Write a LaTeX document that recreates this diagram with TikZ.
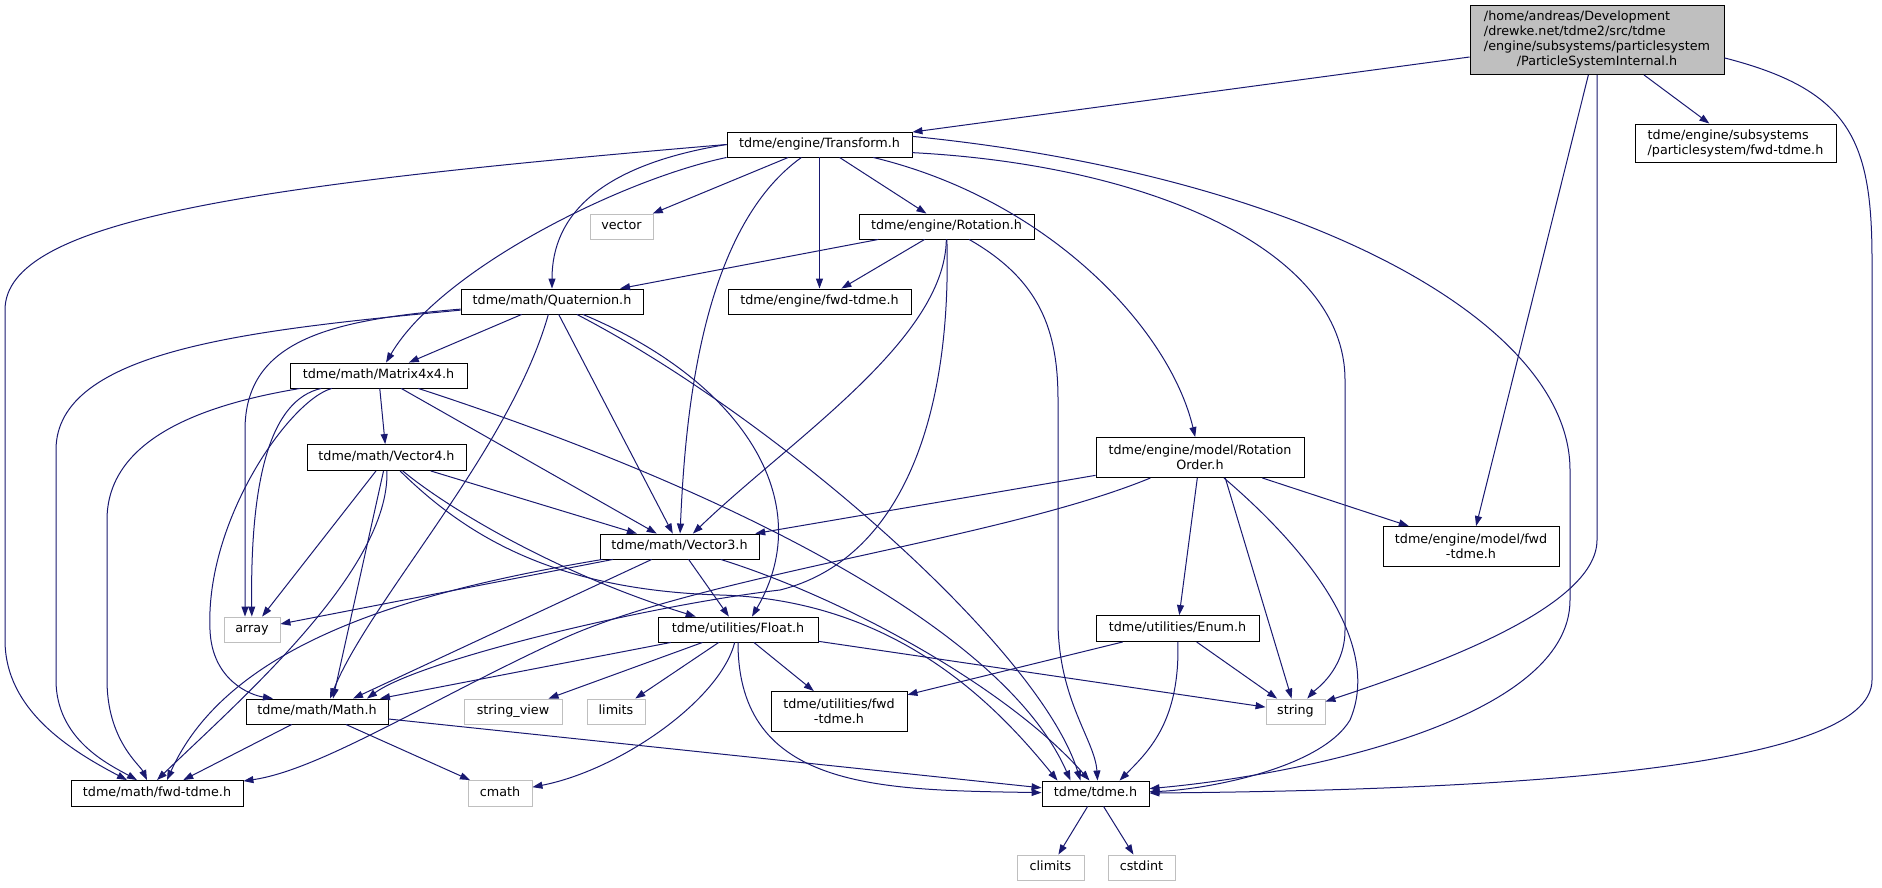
\documentclass[tikz,border=0pt]{standalone}
\usepackage{fontspec}
\setmainfont{DejaVu Sans}
\usetikzlibrary{arrows.meta}
\definecolor{edgeblue}{HTML}{191970}
\definecolor{sysgray}{HTML}{BFBFBF}
\newcommand{\incfont}{\fontsize{12.75pt}{15pt}\selectfont}
\tikzstyle{docfile} = [rectangle, draw=black, line width=0.9pt, fill=white, inner sep=0pt, minimum height=25pt, text height=9.7pt, text depth=3pt, font=\incfont]
\tikzstyle{docfiletwo} = [rectangle, draw=black, line width=0.9pt, fill=white, inner sep=0pt, minimum height=40pt, align=center, font=\incfont]
\tikzstyle{sysfile} = [docfile, draw=sysgray]
\tikzstyle{mainfile} = [docfiletwo, fill=sysgray, minimum height=69pt]
\tikzstyle{incl} = [draw=edgeblue, line width=1pt, ->, >={Triangle[length=10pt,width=7pt]}]
\begin{document}
\begin{tikzpicture}[x=1pt, y=-1pt, node distance=82pt]
\useasboundingbox (0,0) rectangle (1882,887);
\node (psi) [mainfile, minimum width=254pt] at (1597,40) {\begin{tabular}{@{}l@{}}/home/andreas/Development\\/drewke.net/tdme2/src/tdme\\/engine/subsystems/particlesystem\\\multicolumn{1}{@{}c@{}}{/ParticleSystemInternal.h}\end{tabular}};
\node (subfwd) [docfiletwo, align=left, minimum width=201pt, minimum height=38pt, below of=psi, xshift=138.5pt, yshift=-21pt] {tdme/engine/subsystems\\/particlesystem/fwd-tdme.h};
\node (transform) [docfile, minimum width=185pt, below of=psi, xshift=-777.5pt, yshift=-22.5pt] {tdme/engine/Transform.h};
\node (rotation) [docfile, minimum width=175pt, below of=transform, xshift=127pt] {tdme/engine/Rotation.h};
\node (vector) [sysfile, minimum width=63pt, below of=transform, xshift=-198pt] {vector};
\node (efwd) [docfile, minimum width=183pt, below of=rotation, xshift=-127pt, yshift=7pt] {tdme/engine/fwd-tdme.h};
\node (quaternion) [docfile, minimum width=182pt, left of=efwd, xshift=-185.5pt] {tdme/math/Quaternion.h};
\node (matrix) [docfile, minimum width=177pt, below of=quaternion, xshift=-173.5pt, yshift=8pt] {tdme/math/Matrix4x4.h};
\node (vector4) [docfile, minimum width=159pt, minimum height=26pt, below of=matrix, xshift=8pt] {tdme/math/Vector4.h};
\node (rotorder) [docfiletwo, minimum width=208pt, right of=vector4, xshift=731.5pt] {tdme/engine/model/Rotation\\Order.h};
\node (vector3) [docfile, minimum width=159pt, below of=vector4, xshift=293pt, yshift=-7pt] {tdme/math/Vector3.h};
\node (modelfwd) [docfiletwo, minimum width=176pt, below of=rotorder, xshift=271pt, yshift=-7pt] {tdme/engine/model/fwd\\-tdme.h};
\node (array) [sysfile, minimum width=56pt, below of=vector3, xshift=-427.5pt, yshift=-1pt] {array};
\node (float) [docfile, minimum width=160pt, below of=vector3, xshift=58.5pt, yshift=-1pt] {tdme/utilities/Float.h};
\node (enum) [docfile, minimum width=163pt, minimum height=26pt, below of=modelfwd, xshift=-293.5pt] {tdme/utilities/Enum.h};
\node (math) [docfile, minimum width=142pt, below of=array, xshift=65pt] {tdme/math/Math.h};
\node (stringview) [sysfile, minimum width=98pt, below of=float, xshift=-225pt] {string\_view};
\node (limits) [sysfile, minimum width=58pt, below of=float, xshift=-122pt] {limits};
\node (utilfwd) [docfiletwo, minimum width=136pt, below of=float, xshift=101pt] {tdme/utilities/fwd\\-tdme.h};
\node (string) [sysfile, minimum width=59pt, below of=enum, xshift=118pt, yshift=-1pt] {string};
\node (mathfwd) [docfile, minimum width=172pt, minimum height=26pt, below of=math, xshift=-160pt] {tdme/math/fwd-tdme.h};
\node (cmath) [sysfile, minimum width=64pt, minimum height=26pt, below of=math, xshift=183pt] {cmath};
\node (tdme) [docfile, minimum width=107pt, below of=utilfwd, xshift=256.5pt] {tdme/tdme.h};
\node (climits) [sysfile, minimum width=67pt, below of=tdme, xshift=-45pt, yshift=8pt] {climits};
\node (cstdint) [sysfile, minimum width=67pt, below of=tdme, xshift=46pt, yshift=8pt] {cstdint};
\draw [incl] (psi) -- (transform);
\draw [incl] (psi) -- (subfwd);
\draw [incl] (psi) -- (modelfwd);
\draw [incl] (psi.south) -- (1597,540) .. controls (1597,610) and (1420,670) .. (string);
\draw [incl] (psi.-8) .. controls (1850,90) and (1872,140) .. (1872,260) -- (1872,680) .. controls (1872,770) and (1500,790) .. (tdme);
\draw [incl] (transform.west) .. controls (250,185) and (5,220) .. (5,310) -- (5,640) .. controls (5,710) and (70,750) .. ([xshift=-30pt]mathfwd.north);
\draw [incl] (transform.west) .. controls (600,165) and (552,215) .. (quaternion);
\draw [incl] (transform.south west) .. controls (620,180) and (440,270) .. (matrix);
\draw [incl] (transform) -- (vector);
\draw [incl] (transform) .. controls (700,230) and (685,420) .. (vector3);
\draw [incl] (transform) -- (efwd);
\draw [incl] (transform) -- (rotation);
\draw [incl] (transform) .. controls (1050,200) and (1170,330) .. (rotorder);
\draw [incl] (transform.-5) .. controls (1150,165) and (1345,250) .. (1345,380) -- (1345,630) .. controls (1345,670) and (1315,690) .. (string);
\draw [incl] (transform.5) .. controls (1300,175) and (1570,320) .. (1570,470) -- (1570,600) .. controls (1570,720) and (1300,775) .. (tdme);
\draw [incl] (rotation) -- (quaternion);
\draw [incl] (rotation) -- (efwd);
\draw [incl] (rotation) .. controls (945,340) and (790,440) .. (vector3);
\draw [incl] (rotation) .. controls (952,420) and (900,560) .. (780,590) .. controls (650,605) and (420,660) .. ([xshift=50pt]math.north);
\draw [incl] (rotation) .. controls (1040,280) and (1058,330) .. (1058,400) -- (1058,620) .. controls (1058,700) and (1095,740) .. ([xshift=2pt]tdme.north);
\draw [incl] (quaternion) .. controls (330,320) and (245,340) .. (245,430) -- ([xshift=-7pt]array.north);
\draw [incl] (quaternion) .. controls (250,330) and (56,350) .. (56,450) -- (56,680) .. controls (56,740) and (110,765) .. ([xshift=-20pt]mathfwd.north);
\draw [incl] (quaternion) -- (matrix);
\draw [incl] (quaternion) .. controls (510,450) and (370,600) .. ([xshift=13pt]math.north);
\draw [incl] (quaternion) -- (vector3);
\draw [incl] (quaternion) .. controls (740,380) and (820,500) .. ([xshift=14pt]float.north);
\draw [incl] (quaternion) .. controls (780,420) and (1040,650) .. ([xshift=-15pt]tdme.north);
\draw [incl] (matrix) .. controls (200,405) and (107,440) .. (107,520) -- (107,680) .. controls (107,740) and (140,765) .. ([xshift=-10pt]mathfwd.north);
\draw [incl] (matrix) .. controls (270,400) and (250,480) .. (array);
\draw [incl] (matrix) .. controls (290,400) and (205,520) .. (210,630) .. controls (212,680) and (250,695) .. ([xshift=-44pt]math.north);
\draw [incl] (matrix) -- (vector4);
\draw [incl] (matrix) -- (vector3);
\draw [incl] (matrix) .. controls (700,480) and (1000,620) .. ([xshift=-25pt]tdme.north);
\draw [incl] (vector4) -- (array);
\draw [incl] (vector4) .. controls (390,570) and (240,700) .. (mathfwd.north);
\draw [incl] (vector4) -- ([xshift=16pt]math.north);
\draw [incl] (vector4) -- (vector3);
\draw [incl] (vector4) .. controls (450,510) and (560,575) .. (float);
\draw [incl] (vector4) .. controls (470,540) and (560,590) .. (720,595) .. controls (900,600) and (1000,710) .. ([xshift=-38pt]tdme.north);
\draw [incl] (vector3) -- (array);
\draw [incl] (vector3) .. controls (420,590) and (230,640) .. ([xshift=10pt]mathfwd.north);
\draw [incl] (vector3) -- ([xshift=36pt]math.north);
\draw [incl] (vector3) -- (float);
\draw [incl] (vector3) .. controls (850,600) and (1010,690) .. ([xshift=-6pt]tdme.north);
\draw [incl] (float) -- ([xshift=63pt]math.north);
\draw [incl] (float) -- (stringview);
\draw [incl] (float) -- (limits);
\draw [incl] (float) .. controls (720,700) and (620,770) .. (cmath);
\draw [incl] (float) -- (utilfwd);
\draw [incl] (float) .. controls (738,790) and (880,790) .. (tdme);
\draw [incl] (float) -- (string);
\draw [incl] (math) -- (mathfwd);
\draw [incl] (math) -- (cmath);
\draw [incl] (math) -- (tdme);
\draw [incl] (enum) -- (utilfwd);
\draw [incl] (enum) -- (string);
\draw [incl] (enum) .. controls (1180,720) and (1150,750) .. ([xshift=24pt]tdme.north);
\draw [incl] (rotorder) -- (vector3);
\draw [incl] (rotorder) .. controls (1000,540) and (700,575) .. (560,640) .. controls (430,700) and (320,770) .. (mathfwd);
\draw [incl] (rotorder) -- (enum);
\draw [incl] (rotorder.-39) -- (string);
\draw [incl] (rotorder) .. controls (1320,560) and (1380,650) .. (1350,720) .. controls (1320,770) and (1200,790) .. (tdme);
\draw [incl] (rotorder) -- (modelfwd);
\draw [incl] (tdme) -- (climits);
\draw [incl] (tdme) -- (cstdint);
\end{tikzpicture}
\end{document}
